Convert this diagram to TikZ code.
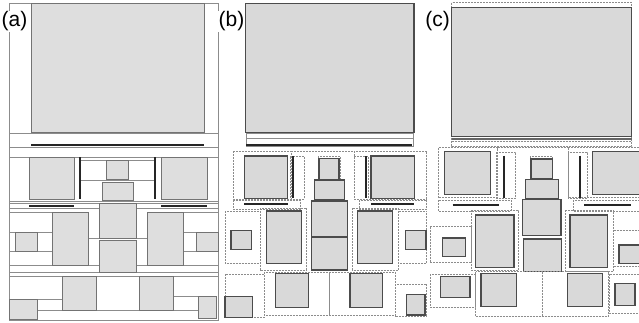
\documentclass[tikz,border=0pt]{standalone}
\usepackage{fontspec}
\setmainfont{Liberation Sans}
\begin{document}
\begin{tikzpicture}[x=1pt,y=-1pt,
  cella/.style={draw=black!55,fill=black!13,line width=0.8pt},
  cellb/.style={draw=black!70,fill=black!15,line width=1.1pt},
  seam/.style={draw=black!45,line width=0.7pt},
  grp/.style={draw=black!45,dash pattern=on 2pt off 1pt,line width=0.6pt},
  rulebar/.style={line width=2pt,black!85},
  panellabel/.style={fill=white,inner sep=1pt,font=\fontsize{21}{21}\selectfont}]
\useasboundingbox (0,0) rectangle (639,322);
% (a)
\draw[seam] (9,3) rectangle (218,320);
\draw[cella] (31,3) rectangle (204,132);
\draw[seam] (9,133) -- (218,133);
\draw[seam] (9,147) -- (218,147);
\draw[seam] (9,157) -- (218,157);
\draw[rulebar] (31,145) -- (204,145);
\draw[seam] (80,160) -- (155,160);
\draw[seam] (80,180) -- (155,180);
\draw[cella] (29,157) rectangle (74,199);
\draw[cella] (161,157) rectangle (207,199);
\draw[cella] (106,160) rectangle (128,179);
\draw[cella] (102,182) rectangle (133,200);
\draw[rulebar] (80,157) -- (80,199);
\draw[rulebar] (155,157) -- (155,199);
\draw[seam] (9,201) -- (218,201);
\draw[seam] (9,203) -- (218,203);
\draw[seam] (9,208) -- (218,208);
\draw[rulebar] (29,206) -- (74,206);
\draw[rulebar] (161,206) -- (207,206);
\draw[seam] (9,212.7) -- (52,212.7) (183,212.7) -- (218,212.7);
\draw[seam] (9,232.7) -- (52,232.7) (183,232.7) -- (218,232.7);
\draw[seam] (9,251.3) -- (52,251.3) (183,251.3) -- (218,251.3);
\draw[seam] (88,238.5) -- (147,238.5);
\draw[seam] (9,265.7) -- (218,265.7);
\draw[seam] (9,272.3) -- (218,272.3);
\draw[seam] (9,276) -- (218,276);
\draw[cella] (15,232.7) rectangle (37.3,251.3);
\draw[cella] (196.3,232.7) rectangle (218,251.3);
\draw[cella] (52.3,212.7) rectangle (88.3,265.7);
\draw[cella] (147,212.7) rectangle (183,265.7);
\draw[cella] (99.3,203.3) rectangle (136.3,238.3);
\draw[cella] (99.3,240) rectangle (136.3,272.3);
\draw[seam] (37,299.7) -- (62,299.7);
\draw[seam] (173,296.7) -- (198,296.7);
\draw[seam] (37,310.3) -- (198,310.3);
\draw[cella] (62.3,276) rectangle (96.7,310.3);
\draw[cella] (139.3,276) rectangle (173.3,310.3);
\draw[cella] (9,299.7) rectangle (37.3,319.3);
\draw[cella] (198.3,296.7) rectangle (216.7,318.3);
\node[panellabel] (taga) at (14.5,21.5) {(a)};
% (b)
\draw[cellb] (245.7,3.3) rectangle (414,132.7);
\draw[seam] (246,133) rectangle (413,146);
\draw[seam] (246,138.5) -- (413,138.5);
\draw[rulebar] (246,145) -- (412,145);
\draw[grp] (233.3,151) rectangle (291,199);
\draw[grp] (290.3,156.7) rectangle (304.3,199);
\draw[grp] (291,151) -- (354.3,151);
\draw[grp] (354.3,151) rectangle (426.7,199);
\draw[grp] (354.3,156.7) rectangle (368.3,199);
\draw[cellb] (244.3,156) rectangle (287.7,198.3);
\draw[cellb] (371,156) rectangle (414.3,198.3);
\draw[rulebar] (292.7,156) -- (292.7,198);
\draw[rulebar] (365.7,156) -- (365.7,198);
\draw[grp] (318,156.7) rectangle (340,180);
\draw[cellb] (319,158.5) rectangle (339,179.3);
\draw[cellb] (314.3,180) rectangle (344.3,200);
\draw[cellb] (311.7,201) rectangle (347.3,236.7);
\draw[cellb] (311.7,237.7) rectangle (347.3,270);
\draw[grp] (233.3,200) rectangle (300,209.3);
\draw[rulebar] (244.3,204.3) -- (287.7,204.3);
\draw[grp] (359,200) rectangle (426.7,209.3);
\draw[rulebar] (371,204.3) -- (414.3,204.3);
\draw[grp] (225,211) rectangle (260,263.3);
\draw[cellb] (231,230.7) rectangle (251.7,249.3);
\draw[grp] (260,208.3) rectangle (306.7,270);
\draw[cellb] (266.7,211) rectangle (301.7,263.3);
\draw[grp] (352.3,208.3) rectangle (398.3,270);
\draw[cellb] (357.3,211) rectangle (392.3,263.3);
\draw[grp] (398.3,211) rectangle (426.7,263.3);
\draw[cellb] (405.3,230.7) rectangle (426,249.3);
\draw[grp] (225,274.3) rectangle (264.3,317.3);
\draw[cellb] (225,296.7) rectangle (252.3,317.3);
\draw[grp] (264.3,272.3) rectangle (395,315.7);
\draw[seam] (329.3,272.3) -- (329.3,315.7);
\draw[cellb] (275.7,273.3) rectangle (308.7,307.3);
\draw[cellb] (350,273.3) rectangle (382.7,307.3);
\draw[grp] (395,284.3) rectangle (426.7,316);
\draw[cellb] (406.7,294.3) rectangle (425,315);
\node[panellabel] (tagb) at (231.5,21.5) {(b)};
% (c)
\draw[grp] (451.7,2.7) rectangle (631.7,146.7);
\draw[cellb] (451.7,7.3) rectangle (631.7,136.7);
\draw[line width=1.5pt,black!60] (451.7,139) -- (631.7,139);
\draw[grp] (451.7,141.7) -- (631.7,141.7);
\draw[grp] (438.3,147.7) rectangle (497.7,197.7);
\draw[cellb] (444.3,151.7) rectangle (490.7,194.3);
\draw[grp] (496.7,152.3) rectangle (515.7,198.3);
\draw[rulebar] (504,155.7) -- (504,197.7);
\draw[grp] (497.7,147.7) -- (568.3,147.7);
\draw[grp] (568.3,147.7) rectangle (642,197.7);
\draw[grp] (568.3,152.3) rectangle (587.3,198.3);
\draw[rulebar] (580,155.7) -- (580,197.7);
\draw[cellb] (592.3,151.7) rectangle (642,194.3);
\draw[grp] (530.3,156.7) rectangle (552.3,180);
\draw[cellb] (531,159) rectangle (552.3,178.3);
\draw[cellb] (525.7,179.3) rectangle (558.3,198.3);
\draw[cellb] (522.3,199.3) rectangle (561,235.7);
\draw[cellb] (523.3,239) rectangle (561.7,271.7);
\draw[grp] (438.3,200) rectangle (511,211);
\draw[rulebar] (452.7,205) -- (499.3,205);
\draw[grp] (573.3,200) rectangle (642,211);
\draw[rulebar] (584,205) -- (631,205);
\draw[grp] (471.7,210) rectangle (518.3,270.7);
\draw[cellb] (475.7,215) rectangle (514,267.3);
\draw[grp] (430,226.7) rectangle (471.7,262.3);
\draw[cellb] (442.7,238) rectangle (465.7,256.7);
\draw[grp] (565,210) rectangle (613.7,271.7);
\draw[cellb] (570,215) rectangle (607.7,267.3);
\draw[grp] (613.7,230) rectangle (642,266);
\draw[cellb] (619,245) rectangle (642,263.3);
\draw[grp] (475.7,271.7) rectangle (608.3,316.7);
\draw[grp] (542.3,271.7) -- (542.3,316.7);
\draw[cellb] (481,273.3) rectangle (516.7,306.7);
\draw[cellb] (567.3,273.3) rectangle (602.3,306.7);
\draw[grp] (430,274) rectangle (475,307.3);
\draw[cellb] (440.7,276.7) rectangle (470,297.3);
\draw[grp] (609,274) rectangle (642,313);
\draw[cellb] (615,283.3) rectangle (635,305.7);
\node[panellabel] (tagc) at (437.5,21.5) {(c)};
\end{tikzpicture}
\end{document}
